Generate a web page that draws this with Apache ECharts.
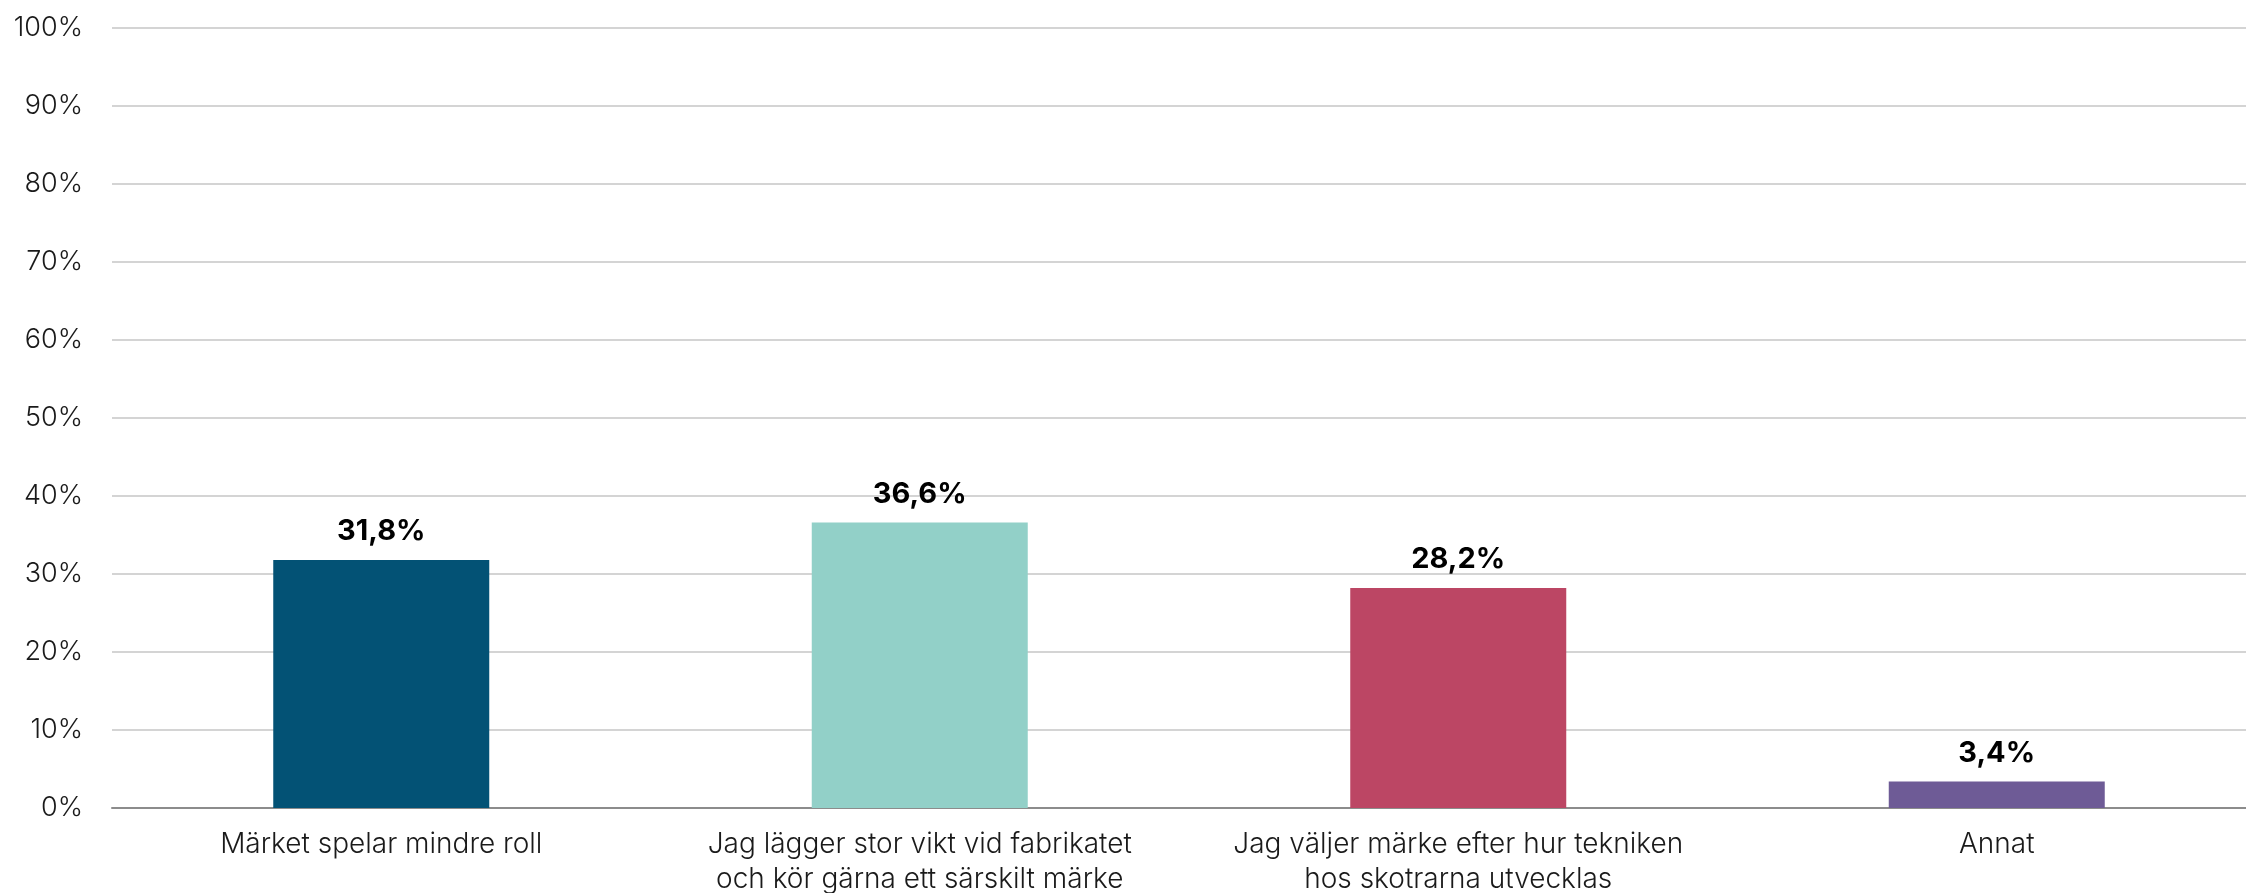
<!DOCTYPE html>
<html>
<head>
<meta charset="utf-8">
<script src="https://cdn.jsdelivr.net/npm/echarts@6/dist/echarts.min.js"></script>
<style>
  html, body { margin: 0; padding: 0; background: #fff; }
  #chart { width: 2246px; height: 893px; }
</style>
</head>
<body>
<div id="chart"></div>
<script>
var categories = [
  'Märket spelar mindre roll',
  'Jag lägger stor vikt vid fabrikatet\noch kör gärna ett särskilt märke',
  'Jag väljer märke efter hur tekniken\nhos skotrarna utvecklas',
  'Annat'
];
var values = [31.8, 36.6, 28.2, 3.4];
var barColors = ['#035275', '#92d0c8', '#bc4664', '#6e5b96'];

var fontFam = 'Inter, "Liberation Sans", Arial, sans-serif';

var dom = document.getElementById('chart');
var myChart = echarts.init(dom);

var option = {
  animation: false,
  grid: {
    left: 112,
    width: 2154,
    top: 28,
    bottom: 85,
    outerBoundsMode: 'none',
    containLabel: false
  },
  xAxis: {
    type: 'category',
    data: categories,
    axisTick: { show: false },
    axisLine: { lineStyle: { color: '#8c8c8c', width: 2 } },
    axisLabel: {
      color: '#1a1a1a',
      fontFamily: fontFam,
      fontWeight: 300,
      fontSize: 28,
      lineHeight: 35,
      margin: 19,
      interval: 0
    }
  },
  yAxis: {
    type: 'value',
    min: 0,
    max: 100,
    interval: 10,
    axisLabel: {
      color: '#1a1a1a',
      fontFamily: fontFam,
      fontWeight: 300,
      fontSize: 27,
      margin: 29,
      formatter: '{value}%'
    },
    splitLine: { lineStyle: { color: '#d4d4d4', width: 2 } }
  },
  series: [
    {
      type: 'bar',
      barWidth: 216,
      data: values.map(function (v, i) {
        return { value: v, itemStyle: { color: barColors[i] } };
      }),
      label: {
        show: true,
        position: 'top',
        distance: 14,
        color: '#000',
        fontFamily: fontFam,
        fontWeight: 'bold',
        fontSize: 29,
        formatter: function (p) {
          return p.value.toFixed(1).replace('.', ',') + '%';
        }
      }
    }
  ]
};

myChart.setOption(option, true);
</script>
</body>
</html>
